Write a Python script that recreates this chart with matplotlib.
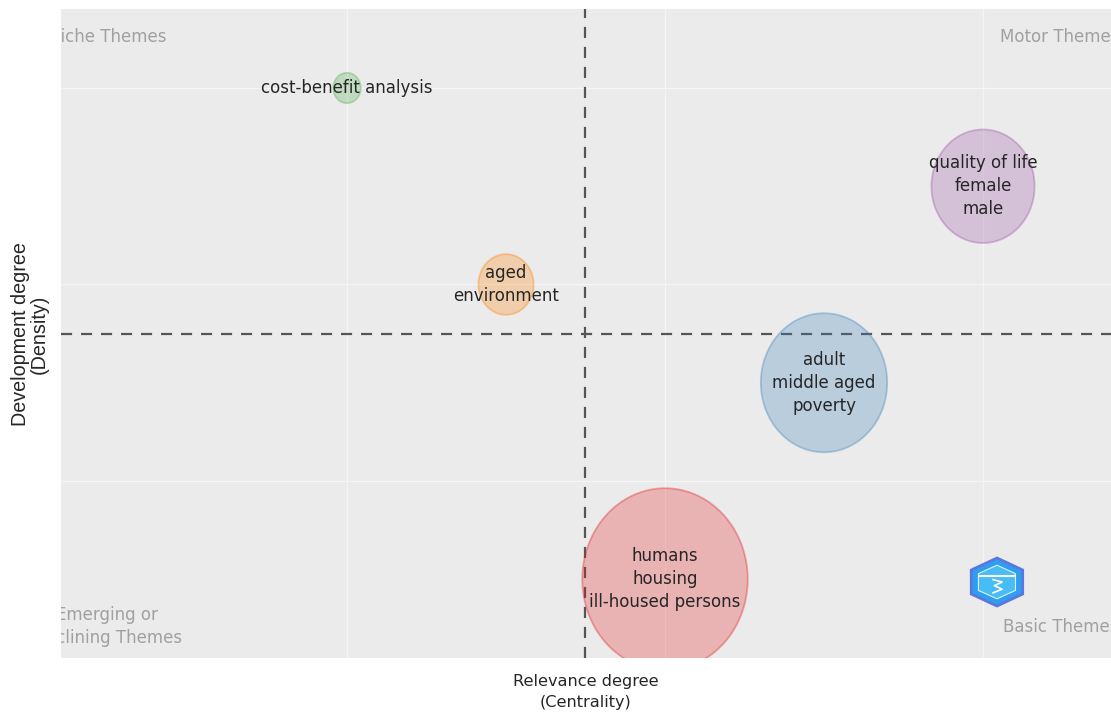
import numpy as np
import matplotlib
matplotlib.use("Agg")
import matplotlib.pyplot as plt
from matplotlib.path import Path
from matplotlib.patches import Polygon
from matplotlib.colors import to_rgba

# thematic map clusters
labels = ["cost-benefit analysis", "aged\nenvironment", "quality of life\nfemale\nmale",
          "adult\nmiddle aged\npoverty", "humans\nhousing\nill-housed persons"]
centrality = [1.0, 1.5, 3.0, 2.5, 2.0]
density = [3.0, 2.0, 2.5, 1.5, 0.5]
freq = [2, 8, 28, 42, 72]
colors = ["#4DAF4A", "#FF7F00", "#984EA3", "#377EB8", "#E41A1C"]

x_split = 1.748
y_split = 1.75

bg = "#EBEBEB"

fig = plt.figure(figsize=(11.11, 7.16), dpi=100)
ax = fig.add_axes([0.0549, 0.081, 0.9451, 0.9064])
ax.set_facecolor(bg)
for s in ax.spines.values():
    s.set_visible(False)
ax.set_xlim(0.1006, 3.4025)
ax.set_ylim(0.099, 3.402)
ax.set_xticks([1, 2, 3])
ax.set_yticks([1, 2, 3])
ax.tick_params(length=0, labelbottom=False, labelleft=False)
ax.grid(True, color="#f5f5f5", lw=0.9)
ax.set_axisbelow(True)

# slightly tall ellipse marker
theta = np.linspace(0, 2 * np.pi, 120)
ell = Path(np.column_stack([np.cos(theta), 1.1 * np.sin(theta)]))

width_px = 19.5 * np.sqrt(np.array(freq))
height_pt = width_px * 1.1 * 72 / fig.dpi
face = [to_rgba(c, 0.27) for c in colors]
edge = [to_rgba(c, 0.35) for c in colors]
ax.scatter(centrality, density, s=height_pt ** 2, marker=ell,
           facecolors=face, edgecolors=edge, linewidths=1.3, zorder=3)

for x, y, lab in zip(centrality, density, labels):
    ax.text(x, y, lab, ha="center", va="center", multialignment="center",
            fontsize=12, color="#262626", linespacing=1.35, zorder=4)

ax.axvline(x_split, color="#555555", lw=1.6, ls=(0, (5, 4)), zorder=2)
ax.axhline(y_split, color="#555555", lw=1.6, ls=(0, (5, 4)), zorder=2)

# quadrant names
qkw = dict(transform=ax.transAxes, fontsize=12, color="#a0a0a0", va="center", clip_on=True)
ax.text(-0.012, 0.9568, "Niche Themes", ha="left", **qkw)
ax.text(0.8943, 0.9568, "Motor Themes", ha="left", **qkw)
ax.text(0.8971, 0.0478, "Basic Themes", ha="left", **qkw)
ax.text(0.044, 0.0485, "Emerging or\nDeclining Themes", ha="center",
        multialignment="center", linespacing=1.32, **qkw)

# small hexagon logo
cx, cy, hw, hh = 0.8914, 0.1171, 0.0245, 0.037
hexv = [(cx, cy + hh), (cx + hw, cy + hh / 2), (cx + hw, cy - hh / 2),
        (cx, cy - hh), (cx - hw, cy - hh / 2), (cx - hw, cy + hh / 2)]
ax.add_patch(Polygon(hexv, closed=True, transform=ax.transAxes,
                     facecolor="#2f9ef0", edgecolor="#5a78dc", lw=2, zorder=5))
inner = [(cx, cy + hh * 0.7), (cx + hw * 0.72, cy + hh * 0.35), (cx + hw * 0.72, cy - hh * 0.35),
         (cx, cy - hh * 0.7), (cx - hw * 0.72, cy - hh * 0.35), (cx - hw * 0.72, cy + hh * 0.35)]
ax.add_patch(Polygon(inner, closed=True, transform=ax.transAxes,
                     facecolor="#48bdf5", edgecolor="#dff2ff", lw=0.8, zorder=6))
ax.plot([cx - hw * 0.7, cx + hw * 0.7], [cy + hh * 0.25, cy + hh * 0.25],
        transform=ax.transAxes, color="white", lw=1.5, zorder=7)
ax.plot([cx - hw * 0.15, cx + hw * 0.2, cx - hw * 0.1, cx + hw * 0.2, cx - hw * 0.15],
        [cy + hh * 0.1, cy, cy - hh * 0.15, cy - hh * 0.3, cy - hh * 0.45],
        transform=ax.transAxes, color="white", lw=1.2, zorder=7)

fig.text(0.5274, 1 - 692 / 716, "Relevance degree\n(Centrality)", ha="center", va="center",
         multialignment="center", fontsize=11.6, color="#262626", linespacing=1.55)
fig.text(30 / 1111, 1 - 334 / 716, "Development degree\n(Density)", ha="center", va="center",
         multialignment="center", rotation=90, fontsize=14.2, color="#262626",
         family="Liberation Sans", linespacing=1.0)

fig.savefig("out.png", dpi=100, facecolor="white")
